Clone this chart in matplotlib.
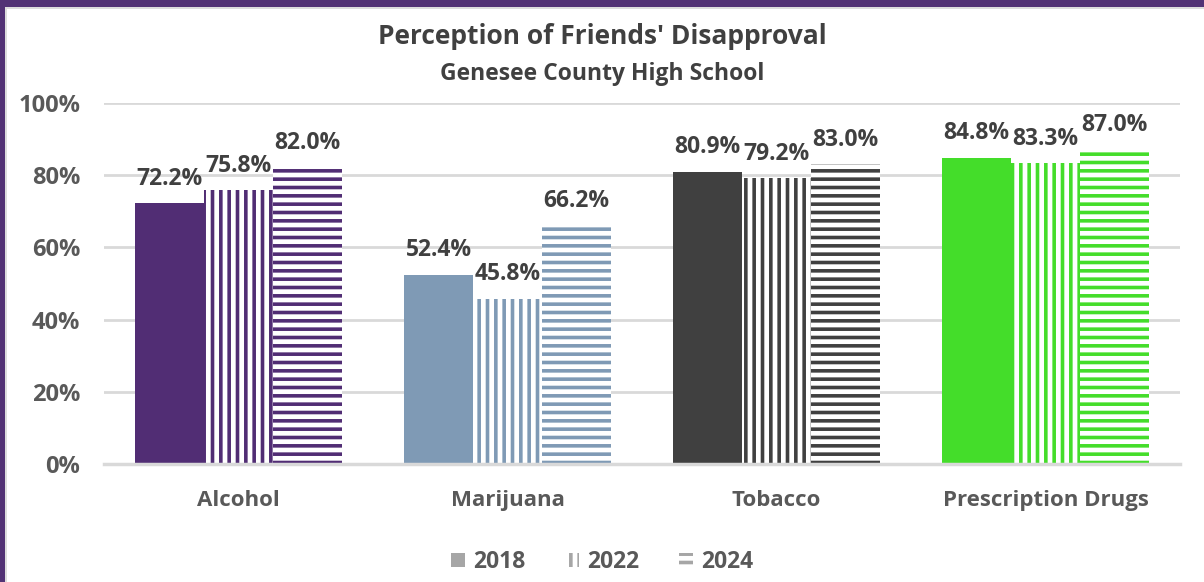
import numpy as np
import matplotlib.pyplot as plt
from matplotlib.patches import Patch, Rectangle

# data
categories = ["Alcohol", "Marijuana", "Tobacco", "Prescription Drugs"]
years = ["2018", "2022", "2024"]
vals_2018 = [72.2, 52.4, 80.9, 84.8]
vals_2022 = [75.8, 45.8, 79.2, 83.3]
vals_2024 = [82.0, 66.2, 83.0, 87.0]
cat_colors = ["#512D74", "#7F9AB5", "#404040", "#44DD2A"]

plt.rcParams['font.family'] = ['Open Sans', 'DejaVu Sans']
plt.rcParams['hatch.linewidth'] = 2.6

fig = plt.figure(figsize=(12.04, 5.82), dpi=100)
ax = fig.add_axes([0.0864, 0.2027, 0.8937, 0.6203])

series = [vals_2018, vals_2022, vals_2024]
hatches = [None, '||', '--']
w = 0.2565
x = np.arange(len(categories))

for j, vals in enumerate(series):
    for i, v in enumerate(vals):
        xpos = x[i] + (j - 1) * w
        if hatches[j] is None:
            ax.bar(xpos, v, width=w, color=cat_colors[i], linewidth=0, zorder=2)
        else:
            ax.bar(xpos, v, width=w, facecolor='white', edgecolor=cat_colors[i],
                   hatch=hatches[j], linewidth=0, zorder=2)
        ax.annotate(f"{v:.1f}%", (xpos, v), xytext=(0, 9), textcoords='offset points',
                    ha='center', va='bottom', fontsize=16.5, fontweight='bold', color='#404040')

ax.set_xlim(-0.5, 3.5)
ax.set_ylim(0, 100)
ax.set_yticks(np.arange(0, 101, 20))
ax.set_yticklabels([f"{t}%" for t in range(0, 101, 20)])
ax.set_xticks(x)
ax.set_xticklabels(categories)
ax.tick_params(axis='y', length=0, pad=17, labelsize=17, labelcolor='#595959')
ax.tick_params(axis='x', length=0, pad=19, labelsize=16, labelcolor='#595959')
for lab in ax.get_xticklabels() + ax.get_yticklabels():
    lab.set_fontweight('bold')

ax.grid(axis='y', color='#D9D9D9', linewidth=2, zorder=0)
ax.set_axisbelow(True)
for s in ['top', 'right', 'left']:
    ax.spines[s].set_visible(False)
ax.spines['bottom'].set_color('#D9D9D9')
ax.spines['bottom'].set_linewidth(2.5)

fig.text(0.5, 0.937, "Perception of Friends' Disapproval", ha='center', va='center',
         fontsize=19, fontweight='bold', color='#404040')
fig.text(0.5, 0.872, "Genesee County High School", ha='center', va='center',
         fontsize=16.5, fontweight='bold', color='#404040')

handles = [Patch(facecolor='#A6A6A6', linewidth=0),
           Patch(facecolor='white', edgecolor='#A6A6A6', hatch='||', linewidth=0),
           Patch(facecolor='white', edgecolor='#A6A6A6', hatch='--', linewidth=0)]
leg = fig.legend(handles, years, loc='center', bbox_to_anchor=(0.5, 0.034), ncol=3,
                 frameon=False, handlelength=0.6, handleheight=0.6, handletextpad=0.35,
                 columnspacing=1.75, prop={'size': 16.5, 'weight': 'bold'})
for t in leg.get_texts():
    t.set_color('#595959')

# purple frame on top and left, with a thin grey inner edge
fig.patches.append(Rectangle((5 / 1204, 0), 2 / 1204, 1, transform=fig.transFigure,
                             facecolor='#DDDDDD', linewidth=0))
fig.patches.append(Rectangle((0, 1 - 9 / 582), 1, 2 / 582, transform=fig.transFigure,
                             facecolor='#DDDDDD', linewidth=0))
fig.patches.append(Rectangle((0, 1 - 7 / 582), 1, 7 / 582, transform=fig.transFigure,
                             facecolor='#523275', linewidth=0))
fig.patches.append(Rectangle((0, 0), 5 / 1204, 1, transform=fig.transFigure,
                             facecolor='#523275', linewidth=0))

fig.savefig("out.png", dpi=100)
